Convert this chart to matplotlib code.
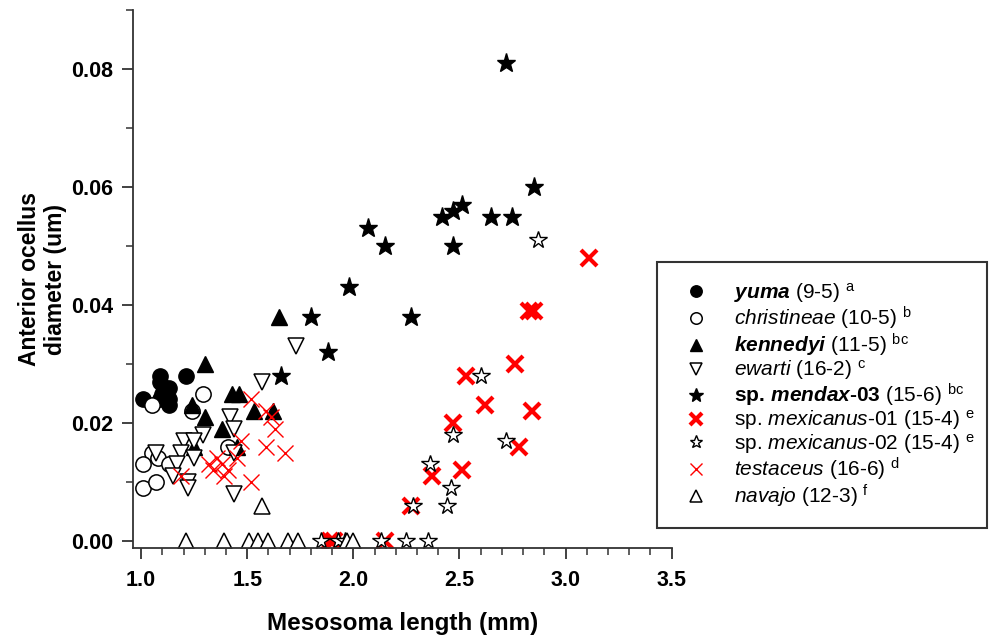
import numpy as np
import matplotlib
matplotlib.use('Agg')
import matplotlib.pyplot as plt
from matplotlib.ticker import MultipleLocator

plt.rcParams['font.family'] = ['Liberation Sans', 'DejaVu Sans']
plt.rcParams['mathtext.fontset'] = 'custom'
plt.rcParams['mathtext.rm'] = 'Liberation Sans'
plt.rcParams['mathtext.it'] = 'Liberation Sans:italic'
plt.rcParams['mathtext.bf'] = 'Liberation Sans:bold'
plt.rcParams['mathtext.bfit'] = 'Liberation Sans:bold:italic'

# Data
yuma_x = [1.01, 1.09, 1.09, 1.13, 1.21, 1.09, 1.13, 1.13, 1.10]
yuma_y = [0.024, 0.028, 0.027, 0.026, 0.028, 0.024, 0.024, 0.023, 0.025]

christ_x = [1.29, 1.05, 1.24, 1.05, 1.01, 1.08, 1.13, 1.01, 1.07, 1.41]
christ_y = [0.025, 0.023, 0.022, 0.015, 0.013, 0.014, 0.013, 0.009, 0.010, 0.016]

kenn_x = [1.65, 1.30, 1.43, 1.46, 1.30, 1.24, 1.38, 1.53, 1.62, 1.25, 1.45]
kenn_y = [0.038, 0.030, 0.025, 0.025, 0.021, 0.023, 0.019, 0.022, 0.022, 0.016, 0.016]

ewarti_x = [1.73, 1.57, 1.42, 1.44, 1.29, 1.20, 1.25, 1.07, 1.19, 1.25, 1.17, 1.15, 1.22, 1.22, 1.44, 1.44]
ewarti_y = [0.033, 0.027, 0.021, 0.019, 0.018, 0.017, 0.017, 0.015, 0.015, 0.014, 0.013, 0.011, 0.010, 0.009, 0.008, 0.015]

mendax_x = [2.72, 2.85, 2.51, 2.47, 2.42, 2.65, 2.75, 2.47, 2.07, 2.15, 1.98, 1.80, 2.27, 1.88, 1.66]
mendax_y = [0.081, 0.060, 0.057, 0.056, 0.055, 0.055, 0.055, 0.050, 0.053, 0.050, 0.043, 0.038, 0.038, 0.032, 0.028]

mex01_x = [3.11, 2.83, 2.85, 2.76, 2.53, 2.62, 2.84, 2.47, 2.78, 2.51, 2.37, 2.27, 2.15, 1.89, 1.91]
mex01_y = [0.048, 0.039, 0.039, 0.030, 0.028, 0.023, 0.022, 0.020, 0.016, 0.012, 0.011, 0.006, 0.000, 0.000, 0.000]

mex02_x = [2.87, 2.60, 2.47, 2.72, 2.36, 2.46, 2.44, 2.28, 2.25, 2.35, 2.13, 1.85, 1.93, 1.96]
mex02_y = [0.051, 0.028, 0.018, 0.017, 0.013, 0.009, 0.006, 0.006, 0.000, 0.000, 0.000, 0.000, 0.000, 0.000]

testa_x = [1.52, 1.59, 1.61, 1.63, 1.59, 1.68, 1.47, 1.45, 1.36, 1.32, 1.34, 1.39, 1.41, 1.52, 1.19, 1.38]
testa_y = [0.024, 0.022, 0.021, 0.019, 0.016, 0.015, 0.017, 0.014, 0.014, 0.013, 0.012, 0.011, 0.012, 0.010, 0.011, 0.013]

navajo_x = [1.21, 1.39, 1.51, 1.55, 1.60, 1.69, 1.74, 1.97, 2.00, 1.57]
navajo_y = [0.0, 0.0, 0.0, 0.0, 0.0, 0.0, 0.0, 0.0, 0.0, 0.006]

labels = [
    r'$\mathbfit{yuma}$ (9-5) $^{\mathrm{a}}$',
    r'$\mathit{christineae}$ (10-5) $^{\mathrm{b}}$',
    r'$\mathbfit{kennedyi}$ (11-5) $^{\mathrm{bc}}$',
    r'$\mathit{ewarti}$ (16-2) $^{\mathrm{c}}$',
    r'$\mathbf{sp.}\,\mathbfit{mendax}\mathbf{‐03}$ (15-6) $^{\mathrm{bc}}$',
    r'sp. $\mathit{mexicanus}$-01 (15-4) $^{\mathrm{e}}$',
    r'sp. $\mathit{mexicanus}$-02 (15-4) $^{\mathrm{e}}$',
    r'$\mathit{testaceus}$ (16-6) $^{\mathrm{d}}$',
    r'$\mathit{navajo}$ (12-3) $^{\mathrm{f}}$',
]

fig = plt.figure(figsize=(9.95, 6.38), dpi=100)
ax = fig.add_axes([0.1337, 0.141, 0.5413, 0.843])

ax.plot(yuma_x, yuma_y, 'o', ms=11, color='black', mec='black', label=labels[0])
ax.plot(christ_x, christ_y, 'o', ms=11, mfc='white', mec='black', mew=1.1, label=labels[1])
ax.plot(kenn_x, kenn_y, '^', ms=11, color='black', label=labels[2])
ax.plot(ewarti_x, ewarti_y, 'v', ms=11, mfc='white', mec='black', mew=1.1, label=labels[3])
ax.plot(mendax_x, mendax_y, '*', ms=14, color='black', label=labels[4])
ax.plot(mex01_x, mex01_y, 'x', ms=11, mec='red', mew=3, label=labels[5])
ax.plot(mex02_x, mex02_y, '*', ms=13, mfc='white', mec='black', mew=1, label=labels[6])
ax.plot(testa_x, testa_y, 'x', ms=12, mec='red', mew=1, label=labels[7])
ax.plot(navajo_x, navajo_y, '^', ms=11, mfc='white', mec='black', mew=1.1, label=labels[8])

ax.set_xlim(0.962, 3.5)
ax.set_ylim(-0.0012, 0.09)
ax.xaxis.set_major_locator(MultipleLocator(0.5))
ax.xaxis.set_minor_locator(MultipleLocator(0.1))
ax.yaxis.set_major_locator(MultipleLocator(0.02))
ax.yaxis.set_minor_locator(MultipleLocator(0.01))
ax.xaxis.set_major_formatter(plt.FormatStrFormatter('%.1f'))
ax.yaxis.set_major_formatter(plt.FormatStrFormatter('%.2f'))

for s in ['top', 'right']:
    ax.spines[s].set_visible(False)
for s in ['left', 'bottom']:
    ax.spines[s].set_linewidth(1.3)
    ax.spines[s].set_color('#333333')

ax.tick_params(which='major', direction='out', length=8, width=1.3, color='#333333', labelsize=15.5)
ax.tick_params(axis='y', which='major', pad=6)
ax.tick_params(axis='x', which='major', pad=8)
ax.tick_params(which='minor', direction='out', length=5, width=1.1, color='#333333')
for t in ax.get_xticklabels() + ax.get_yticklabels():
    t.set_fontweight('bold')

ax.set_xlabel('Mesosoma length (mm)', fontsize=17.5, fontweight='bold', labelpad=15)
ax.set_ylabel('Anterior ocellus\ndiameter (um)', fontsize=16.5, fontweight='bold', labelpad=3)

leg = fig.legend(loc='upper left', bbox_to_anchor=(0.660, 0.589, 0.332, 0.0), mode='expand',
                 fontsize=15, frameon=True, fancybox=False, edgecolor='black',
                 markerscale=0.75, labelspacing=-0.02, handletextpad=0.8,
                 borderpad=0.9, borderaxespad=0, handlelength=2.0)
leg.get_frame().set_linewidth(1.5)

fig.savefig('out.png', dpi=100)
